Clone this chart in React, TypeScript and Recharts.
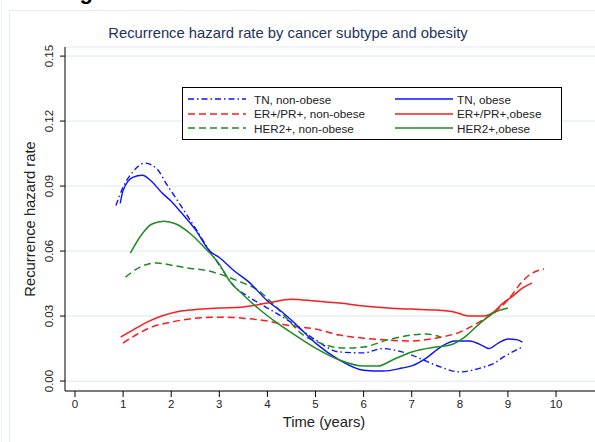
import React from "react";
import { LineChart, Line, XAxis, YAxis, CartesianGrid } from "recharts";

// hazard curves: [time in years, rate]
const tnNonObese: [number, number][] = [
  [0.85, 0.081], [1.0, 0.0895], [1.2, 0.0965], [1.45, 0.1006], [1.7, 0.098], [1.9, 0.091],
  [2.2, 0.081], [2.5, 0.0706], [2.8, 0.06], [3.0, 0.0535], [3.3, 0.044], [3.6, 0.039],
  [4.0, 0.0337], [4.5, 0.027], [5.0, 0.019], [5.5, 0.0134], [6.0, 0.013], [6.4, 0.015],
  [6.7, 0.014], [7.0, 0.012], [7.3, 0.0092], [7.6, 0.0065], [8.0, 0.0042], [8.5, 0.0065],
  [8.7, 0.008], [8.9, 0.011], [9.3, 0.0157],
];
const tnObese: [number, number][] = [
  [0.94, 0.082], [1.0, 0.088], [1.2, 0.094], [1.4, 0.095], [1.6, 0.092], [1.8, 0.087],
  [2.0, 0.083], [2.2, 0.078], [2.5, 0.07], [2.8, 0.06], [3.0, 0.057], [3.3, 0.051],
  [3.6, 0.046], [4.0, 0.037], [4.3, 0.032], [4.6, 0.026], [5.0, 0.0175], [5.5, 0.0097],
  [6.0, 0.005], [6.4, 0.0046], [6.8, 0.006], [7.0, 0.007], [7.3, 0.0106], [7.6, 0.0157],
  [7.9, 0.0185], [8.2, 0.0185], [8.5, 0.016], [8.6, 0.015], [8.8, 0.0175], [9.0, 0.0194],
  [9.2, 0.019], [9.3, 0.018],
];
const erNonObese: [number, number][] = [
  [1.0, 0.0175], [1.3, 0.0217], [1.6, 0.025], [2.0, 0.0272], [2.5, 0.029], [3.0, 0.0295],
  [3.5, 0.029], [4.0, 0.0277], [4.5, 0.0254], [5.0, 0.024], [5.5, 0.0212], [6.0, 0.0198],
  [6.5, 0.0189], [7.0, 0.0185], [7.5, 0.0198], [8.0, 0.0226], [8.4, 0.0272], [8.7, 0.0314],
  [9.0, 0.0374], [9.3, 0.046], [9.5, 0.0498], [9.75, 0.0517],
];
const erObese: [number, number][] = [
  [0.95, 0.0203], [1.2, 0.0235], [1.5, 0.0272], [1.8, 0.03], [2.2, 0.0323], [2.6, 0.0332],
  [3.0, 0.0337], [3.5, 0.0342], [4.0, 0.036], [4.5, 0.0378], [5.0, 0.0369], [5.5, 0.036],
  [6.0, 0.0346], [6.5, 0.0337], [7.0, 0.0332], [7.5, 0.0328], [7.9, 0.0318], [8.2, 0.03],
  [8.5, 0.03], [8.7, 0.0318], [8.9, 0.036], [9.1, 0.0392], [9.3, 0.0429], [9.5, 0.0452],
];
const her2NonObese: [number, number][] = [
  [1.05, 0.048], [1.35, 0.0526], [1.7, 0.0545], [2.0, 0.0535], [2.4, 0.052], [2.7, 0.0512],
  [3.0, 0.0494], [3.3, 0.047], [3.5, 0.0452], [3.8, 0.042], [4.1, 0.036], [4.4, 0.029],
  [4.7, 0.022], [5.1, 0.0175], [5.6, 0.0152], [6.0, 0.0157], [6.5, 0.019], [7.0, 0.0212],
  [7.3, 0.0217], [7.6, 0.0203],
];
const her2Obese: [number, number][] = [
  [1.15, 0.059], [1.35, 0.0665], [1.6, 0.0725], [1.85, 0.0738], [2.1, 0.0725], [2.4, 0.068],
  [2.7, 0.0614], [3.0, 0.054], [3.2, 0.0466], [3.5, 0.0397], [3.8, 0.0337], [4.2, 0.0268],
  [4.6, 0.0208], [5.0, 0.0152], [5.5, 0.0097], [6.0, 0.0069], [6.3, 0.0069], [6.6, 0.0097],
  [7.0, 0.0134], [7.5, 0.0157], [7.8, 0.0166], [8.1, 0.0203], [8.4, 0.0263], [8.7, 0.0314],
  [9.0, 0.0337],
];

const xTicks = [0, 1, 2, 3, 4, 5, 6, 7, 8, 9, 10];
const yTicks = [0, 0.03, 0.06, 0.09, 0.12, 0.15];

const BLUE = "#0a14ff";
const RED = "#ff1a1a";
const GREEN = "#1e8c1e";
const FONT = "'Liberation Sans', Arial, sans-serif";

const series = [
  { key: "tnN", name: "TN, non-obese", data: tnNonObese, color: BLUE, dash: "6 3 1.5 3", width: 1.4 },
  { key: "erN", name: "ER+/PR+, non-obese", data: erNonObese, color: RED, dash: "7 4", width: 1.5 },
  { key: "heN", name: "HER2+, non-obese", data: her2NonObese, color: GREEN, dash: "7 4", width: 1.5 },
  { key: "tnO", name: "TN, obese", data: tnObese, color: BLUE, dash: undefined, width: 1.4 },
  { key: "erO", name: "ER+/PR+,obese", data: erObese, color: RED, dash: undefined, width: 1.5 },
  { key: "heO", name: "HER2+,obese", data: her2Obese, color: GREEN, dash: undefined, width: 1.5 },
];

const toRows = (pts: [number, number][]) => pts.map(([t, v]) => ({ t, v }));

const YTick = ({ x, y, payload }: any) => {
  const bx = x - 5;
  return (
    <text
      x={bx}
      y={y}
      transform={`rotate(-90 ${bx} ${y})`}
      textAnchor="middle"
      fontSize={11.5}
      fontFamily={FONT}
      fill="#222"
    >
      {Number(payload.value).toFixed(2)}
    </text>
  );
};

const LegendBox = () => (
  <div
    style={{
      position: "absolute",
      left: 182,
      top: 87,
      width: 378,
      height: 51,
      border: "1px solid #000",
      background: "#fff",
      fontFamily: FONT,
      fontSize: 11.7,
      color: "#222",
    }}
  >
    {series.map((s, i) => {
      const col = i < 3 ? 0 : 1;
      const row = i % 3;
      const left = col === 0 ? 4 : 211;
      const top = 3 + row * 14.5;
      return (
        <div key={s.key} style={{ position: "absolute", left, top, height: 16, display: "flex", alignItems: "center" }}>
          <svg width={60} height={16}>
            <line x1={1} y1={8} x2={59} y2={8} stroke={s.color} strokeWidth={s.width} strokeDasharray={s.dash} />
          </svg>
          <span style={{ marginLeft: col === 0 ? 7 : 3, whiteSpace: "nowrap" }}>{s.name}</span>
        </div>
      );
    })}
  </div>
);

export default function App() {
  return (
    <div style={{ position: "absolute", left: 0, top: 0, width: 595, height: 442, overflow: "hidden", background: "#fff" }}>
      <div style={{ position: "absolute", left: 1, top: 0, width: 0, height: 442, borderLeft: "1px solid #eef3f5" }} />
      <div style={{ position: "absolute", left: 9, top: 10, width: 600, height: 450, border: "1.5px solid #e6edf0" }} />
      <div
        style={{
          position: "absolute",
          left: 60,
          top: -19,
          fontFamily: FONT,
          fontWeight: "bold",
          fontSize: 22,
          lineHeight: "22px",
          color: "#000",
          whiteSpace: "nowrap",
        }}
      >
        Figure
      </div>
      <div
        style={{
          position: "absolute",
          left: 0,
          width: 576,
          top: 25,
          textAlign: "center",
          fontFamily: FONT,
          fontSize: 14.8,
          color: "#233260",
        }}
      >
        Recurrence hazard rate by cancer subtype and obesity
      </div>
      <LineChart
        width={595}
        height={442}
        margin={{ top: 47, right: 0, left: 0, bottom: 0 }}
        style={{ position: "absolute", left: 0, top: 0 }}
      >
        <CartesianGrid vertical={false} stroke="#e3ecf1" strokeWidth={1.2} />
        <XAxis
          type="number"
          dataKey="t"
          domain={[-0.208, 10.81]}
          ticks={xTicks}
          allowDataOverflow
          height={51}
          tickSize={6}
          tickMargin={3}
          stroke="#000"
          tick={{ fontSize: 11.5, fontFamily: FONT, fill: "#222" }}
          tickLine={{ stroke: "#000" }}
          label={{
            value: "Time (years)",
            position: "insideBottom",
            offset: 15,
            dx: -6,
            style: { fontSize: 14.8, fontFamily: FONT, fill: "#222" },
          }}
        />
        <YAxis
          type="number"
          dataKey="v"
          domain={[-0.0046, 0.1542]}
          ticks={yTicks}
          allowDataOverflow
          width={65}
          tickSize={5}
          tickMargin={2}
          stroke="#000"
          tick={<YTick />}
          label={{
            value: "Recurrence hazard rate",
            angle: -90,
            position: "insideLeft",
            offset: 30,
            dy: 0,
            style: { fontSize: 14.8, fontFamily: FONT, fill: "#222", textAnchor: "middle" },
          }}
        />
        {series.map((s) => (
          <Line
            key={s.key}
            data={toRows(s.data)}
            dataKey="v"
            name={s.name}
            type="monotone"
            stroke={s.color}
            strokeWidth={s.width}
            strokeDasharray={s.dash}
            dot={false}
            activeDot={false}
            isAnimationActive={false}
          />
        ))}
      </LineChart>
      <LegendBox />
    </div>
  );
}
